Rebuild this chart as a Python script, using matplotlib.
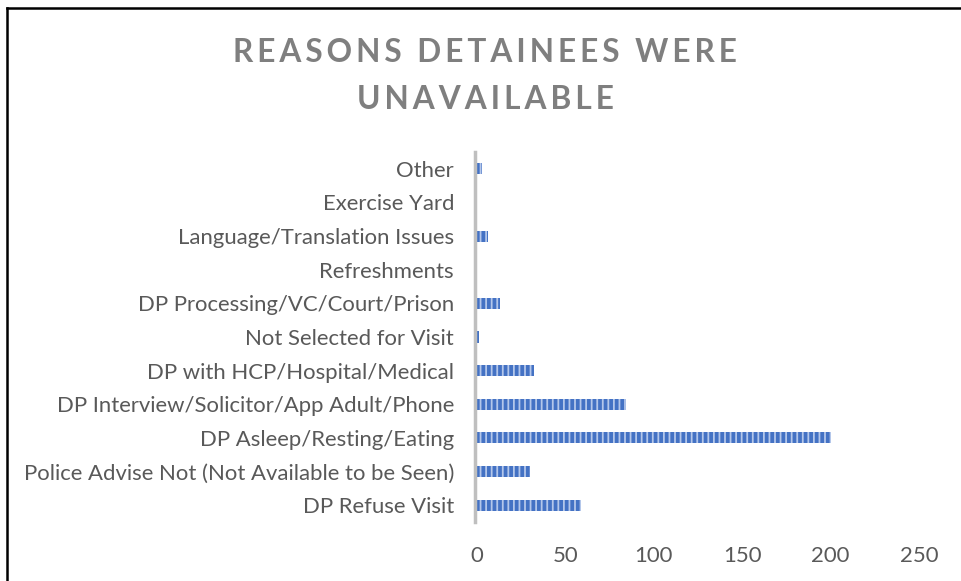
import matplotlib.pyplot as plt
from matplotlib.lines import Line2D

categories = [
    'DP Refuse Visit',
    'Police Advise Not (Not Available to be Seen)',
    'DP Asleep/Resting/Eating',
    'DP Interview/Solicitor/App Adult/Phone',
    'DP with HCP/Hospital/Medical',
    'Not Selected for Visit',
    'DP Processing/VC/Court/Prison',
    'Refreshments',
    'Language/Translation Issues',
    'Exercise Yard',
    'Other',
]
values = [59, 30, 200, 84, 32, 1, 13, 0, 6, 0, 3]
xticks = [0, 50, 100, 150, 200, 250]

plt.rcParams['hatch.linewidth'] = 1.3
plt.rcParams['font.family'] = ['Lato', 'DejaVu Sans']

fig = plt.figure(figsize=(9.62, 5.81), dpi=100)
ax = fig.add_axes([477 / 962, 1 - 522 / 581, 442 / 962, 370 / 581])

ypos = range(len(categories))
ax.barh(ypos, values, height=0.33, color='#4472C4', edgecolor='#B4C7EA',
        hatch='|||', linewidth=0)

ax.set_xlim(0, 250)
ax.set_ylim(-0.5, len(categories) - 0.5)
ax.set_xticks(xticks)
ax.set_xticklabels([str(t) for t in xticks])
ax.set_yticks(list(ypos))
ax.set_yticklabels(categories)
ax.tick_params(axis='both', length=0, labelsize=15.9, labelcolor='#595959')
ax.tick_params(axis='y', pad=15)
ax.tick_params(axis='x', pad=17)

for side in ['top', 'right', 'bottom']:
    ax.spines[side].set_visible(False)
ax.spines['left'].set_color('#BFBFBF')
ax.spines['left'].set_linewidth(2.5)
ax.spines['left'].set_position(('outward', 1.5))

title = 'REASONS DETAINEES WERE\nUNAVAILABLE'
spaced = '\n'.join('\u2009'.join(line) for line in title.split('\n'))
fig.text(485 / 962, 1 - 76 / 581, spaced, ha='center', va='center',
         fontsize=22.8, fontweight='bold', color='#7F7F7F', linespacing=1.75)

# chart border
fig.add_artist(Line2D([7 / 962, 7 / 962], [0, 1 - 8 / 581], transform=fig.transFigure,
                      color='black', linewidth=1.8))
fig.add_artist(Line2D([7 / 962, 1], [1 - 8 / 581, 1 - 8 / 581], transform=fig.transFigure,
                      color='black', linewidth=1.8))

fig.savefig('out.png', dpi=100)
